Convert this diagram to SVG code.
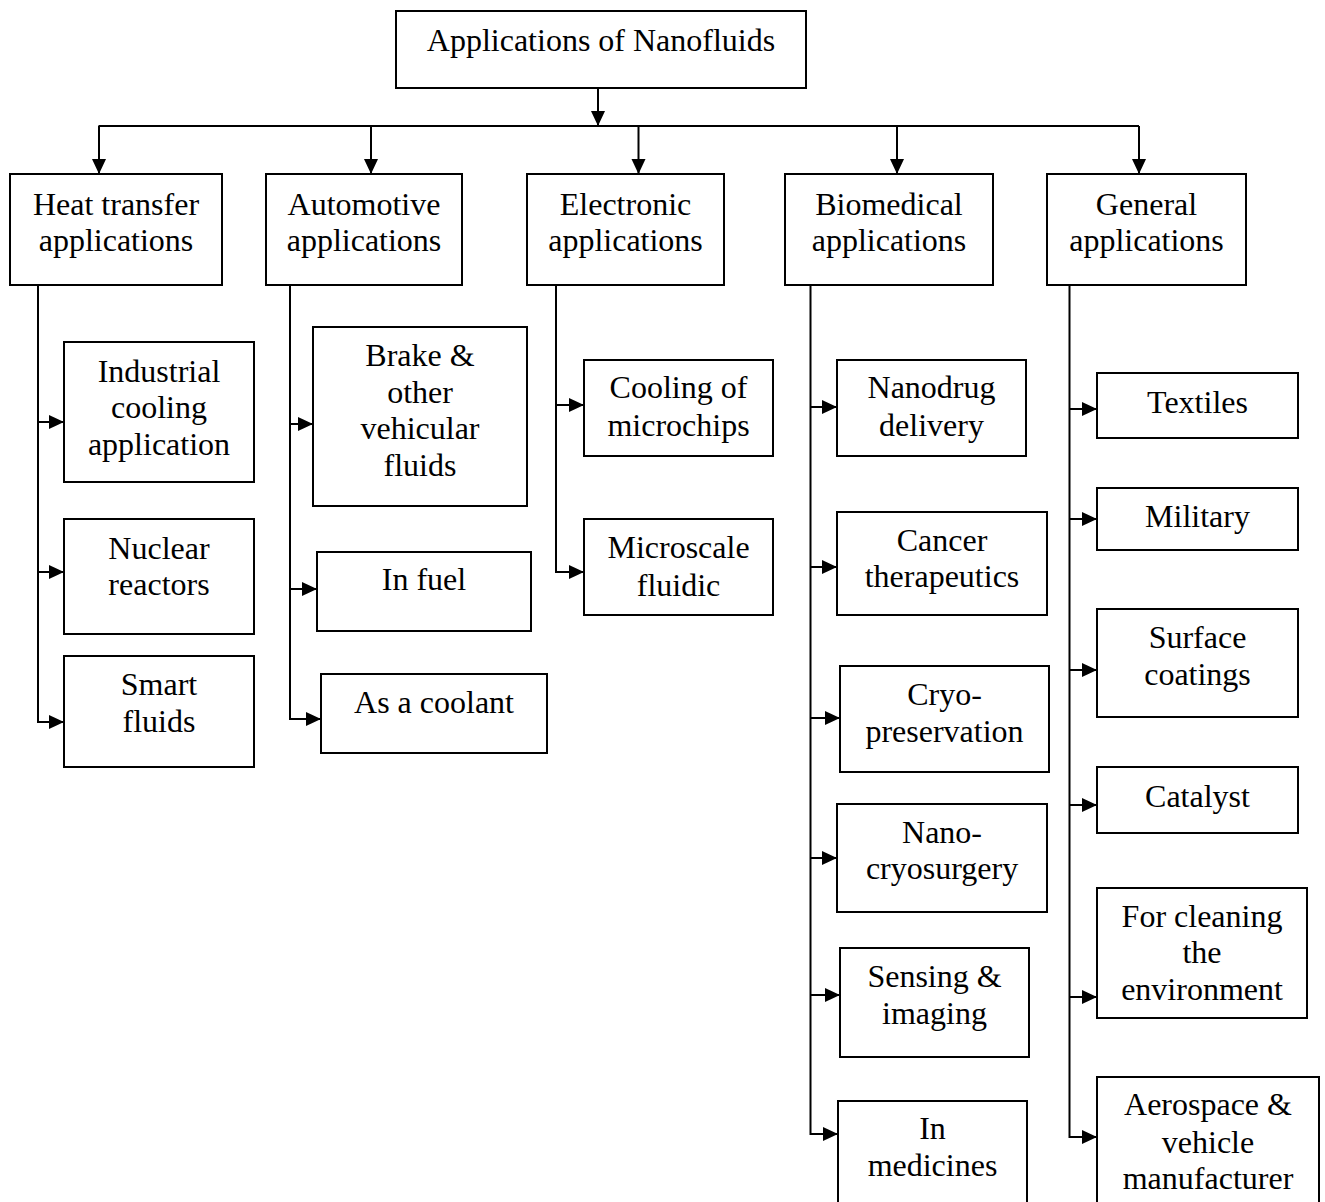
<svg xmlns="http://www.w3.org/2000/svg" width="1325" height="1202" viewBox="0 0 1325 1202">
<style>
.box{fill:#fff;stroke:#000;stroke-width:2}
.t{font-family:"Liberation Serif","Times New Roman",serif;font-size:32px;fill:#000;text-anchor:middle}
.c{fill:none;stroke:#000;stroke-width:2}
</style>
<defs>
<marker id="ah" markerUnits="userSpaceOnUse" markerWidth="16" markerHeight="15" refX="15" refY="7" orient="auto">
<path d="M0,0 L15,7 L0,14 z" fill="#000"/>
</marker>
</defs>
<rect width="1325" height="1202" fill="#fff"/>
<g id="connectors">
<path class="c" d="M598,88 V126" marker-end="url(#ah)"/>
<path class="c" d="M98.5,126 H1139"/>
<path class="c" d="M99,126 V174" marker-end="url(#ah)"/>
<path class="c" d="M371,126 V174" marker-end="url(#ah)"/>
<path class="c" d="M638.5,126 V174" marker-end="url(#ah)"/>
<path class="c" d="M897,126 V174" marker-end="url(#ah)"/>
<path class="c" d="M1139,126 V174" marker-end="url(#ah)"/>
<path class="c" d="M38,285 V722 H64" marker-end="url(#ah)"/>
<path class="c" d="M38,422 H64" marker-end="url(#ah)"/>
<path class="c" d="M38,572 H64" marker-end="url(#ah)"/>
<path class="c" d="M290,285 V719 H321" marker-end="url(#ah)"/>
<path class="c" d="M290,424 H313" marker-end="url(#ah)"/>
<path class="c" d="M290,589 H317" marker-end="url(#ah)"/>
<path class="c" d="M556,285 V572 H584" marker-end="url(#ah)"/>
<path class="c" d="M556,405 H584" marker-end="url(#ah)"/>
<path class="c" d="M810.5,285 V1134 H838" marker-end="url(#ah)"/>
<path class="c" d="M810.5,407 H837" marker-end="url(#ah)"/>
<path class="c" d="M810.5,567 H837" marker-end="url(#ah)"/>
<path class="c" d="M810.5,718 H840" marker-end="url(#ah)"/>
<path class="c" d="M810.5,858 H837" marker-end="url(#ah)"/>
<path class="c" d="M810.5,995 H840" marker-end="url(#ah)"/>
<path class="c" d="M1069.5,285 V1137 H1097" marker-end="url(#ah)"/>
<path class="c" d="M1069.5,409 H1097" marker-end="url(#ah)"/>
<path class="c" d="M1069.5,519 H1097" marker-end="url(#ah)"/>
<path class="c" d="M1069.5,670 H1097" marker-end="url(#ah)"/>
<path class="c" d="M1069.5,805 H1097" marker-end="url(#ah)"/>
<path class="c" d="M1069.5,997 H1097" marker-end="url(#ah)"/>
</g>
<g id="root"><rect class="box" x="396" y="11" width="410" height="77"/><text class="t" x="601" y="51">Applications of Nanofluids</text></g>
<g id="heat"><rect class="box" x="10" y="174" width="212" height="111"/><text class="t" x="116" y="215">Heat transfer</text><text class="t" x="116" y="251">applications</text></g>
<g id="auto"><rect class="box" x="266" y="174" width="196" height="111"/><text class="t" x="364" y="215">Automotive</text><text class="t" x="364" y="251">applications</text></g>
<g id="elec"><rect class="box" x="527" y="174" width="197" height="111"/><text class="t" x="625.5" y="215">Electronic</text><text class="t" x="625.5" y="251">applications</text></g>
<g id="bio"><rect class="box" x="785" y="174" width="208" height="111"/><text class="t" x="889" y="215">Biomedical</text><text class="t" x="889" y="251">applications</text></g>
<g id="gen"><rect class="box" x="1047" y="174" width="199" height="111"/><text class="t" x="1146.5" y="215">General</text><text class="t" x="1146.5" y="251">applications</text></g>
<g id="industrial"><rect class="box" x="64" y="342" width="190" height="140"/><text class="t" x="159" y="382">Industrial</text><text class="t" x="159" y="418">cooling</text><text class="t" x="159" y="455">application</text></g>
<g id="nuclear"><rect class="box" x="64" y="519" width="190" height="115"/><text class="t" x="159" y="559">Nuclear</text><text class="t" x="159" y="595">reactors</text></g>
<g id="smart"><rect class="box" x="64" y="656" width="190" height="111"/><text class="t" x="159" y="695">Smart</text><text class="t" x="159" y="732">fluids</text></g>
<g id="brake"><rect class="box" x="313" y="327" width="214" height="179"/><text class="t" x="420" y="366">Brake &amp;</text><text class="t" x="420" y="403">other</text><text class="t" x="420" y="439">vehicular</text><text class="t" x="420" y="476">fluids</text></g>
<g id="fuel"><rect class="box" x="317" y="552" width="214" height="79"/><text class="t" x="424" y="590">In fuel</text></g>
<g id="coolant"><rect class="box" x="321" y="674" width="226" height="79"/><text class="t" x="434" y="713">As a coolant</text></g>
<g id="microchips"><rect class="box" x="584" y="360" width="189" height="96"/><text class="t" x="678.5" y="398">Cooling of</text><text class="t" x="678.5" y="436">microchips</text></g>
<g id="microscale"><rect class="box" x="584" y="519" width="189" height="96"/><text class="t" x="678.5" y="558">Microscale</text><text class="t" x="678.5" y="596">fluidic</text></g>
<g id="nanodrug"><rect class="box" x="837" y="360" width="189" height="96"/><text class="t" x="931.5" y="398">Nanodrug</text><text class="t" x="931.5" y="436">delivery</text></g>
<g id="cancer"><rect class="box" x="837" y="512" width="210" height="103"/><text class="t" x="942" y="551">Cancer</text><text class="t" x="942" y="587">therapeutics</text></g>
<g id="cryo"><rect class="box" x="840" y="666" width="209" height="106"/><text class="t" x="944.5" y="705">Cryo-</text><text class="t" x="944.5" y="742">preservation</text></g>
<g id="nanocryo"><rect class="box" x="837" y="804" width="210" height="108"/><text class="t" x="942" y="843">Nano-</text><text class="t" x="942" y="879">cryosurgery</text></g>
<g id="sensing"><rect class="box" x="840" y="948" width="189" height="109"/><text class="t" x="934.5" y="987">Sensing &amp;</text><text class="t" x="934.5" y="1024">imaging</text></g>
<g id="medicines"><rect class="box" x="838" y="1101" width="189" height="110"/><text class="t" x="932.5" y="1139">In</text><text class="t" x="932.5" y="1176">medicines</text></g>
<g id="textiles"><rect class="box" x="1097" y="373" width="201" height="65"/><text class="t" x="1197.5" y="413">Textiles</text></g>
<g id="military"><rect class="box" x="1097" y="488" width="201" height="62"/><text class="t" x="1197.5" y="527">Military</text></g>
<g id="surface"><rect class="box" x="1097" y="609" width="201" height="108"/><text class="t" x="1197.5" y="648">Surface</text><text class="t" x="1197.5" y="685">coatings</text></g>
<g id="catalyst"><rect class="box" x="1097" y="767" width="201" height="66"/><text class="t" x="1197.5" y="807">Catalyst</text></g>
<g id="cleaning"><rect class="box" x="1097" y="888" width="210" height="130"/><text class="t" x="1202" y="927">For cleaning</text><text class="t" x="1202" y="963">the</text><text class="t" x="1202" y="1000">environment</text></g>
<g id="aerospace"><rect class="box" x="1097" y="1077" width="222" height="130"/><text class="t" x="1208" y="1115">Aerospace &amp;</text><text class="t" x="1208" y="1153">vehicle</text><text class="t" x="1208" y="1189">manufacturer</text></g>
</svg>
